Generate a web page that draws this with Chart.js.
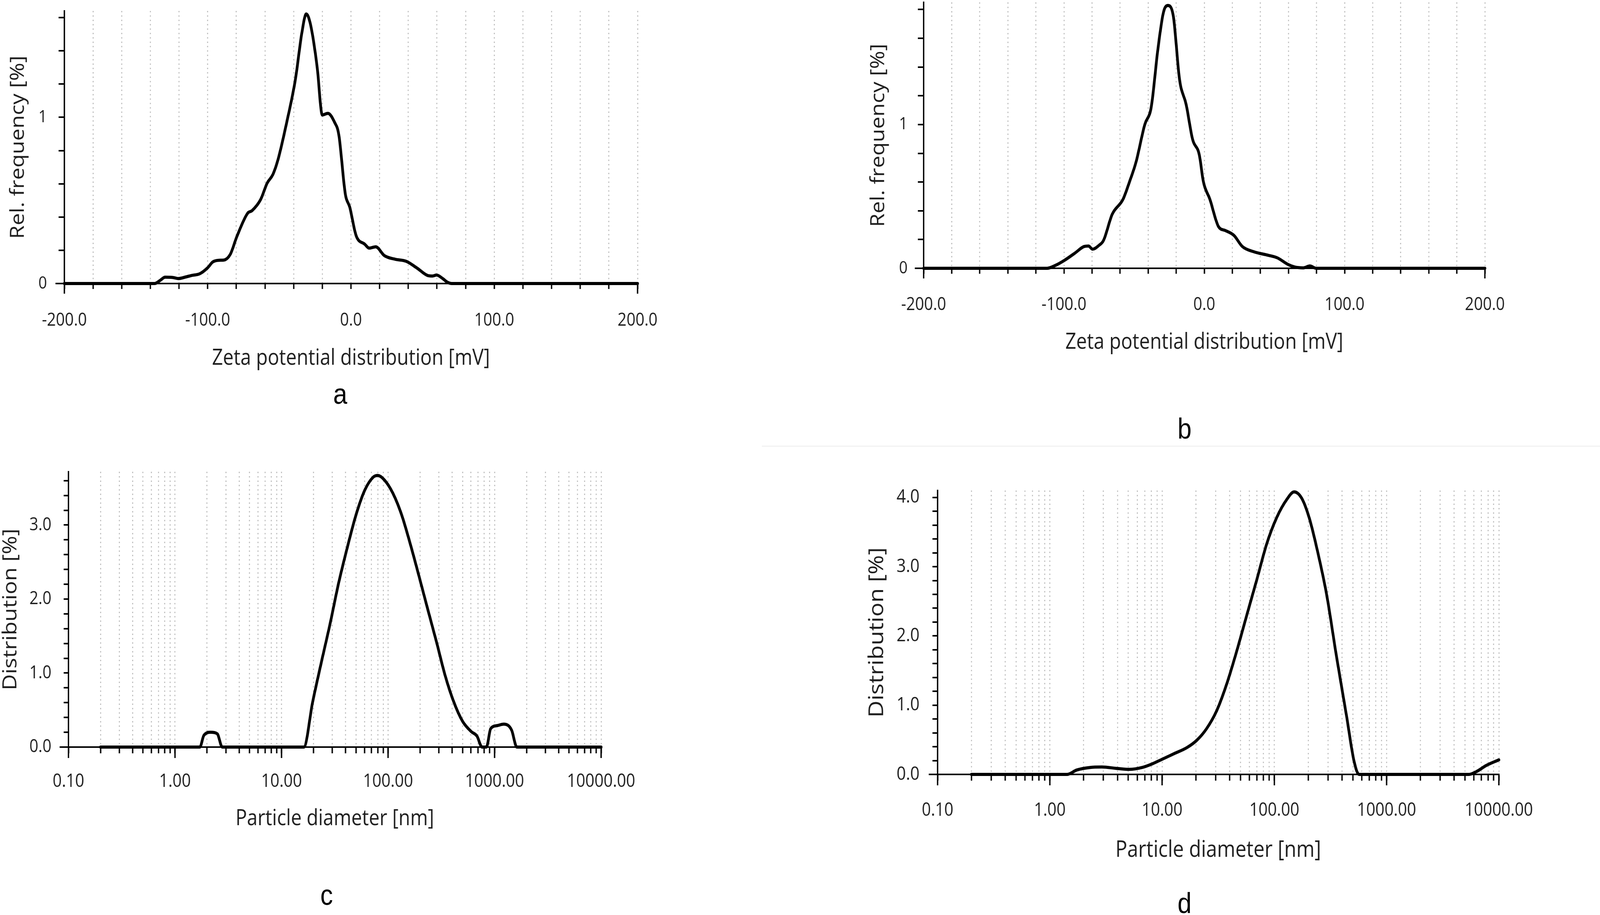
<!DOCTYPE html>
<html><head><meta charset="utf-8">
<script src="https://cdn.jsdelivr.net/npm/chart.js@4.4.1/dist/chart.umd.min.js"></script>
<style>
html,body{margin:0;padding:0;background:#fff;overflow:hidden;}
#root{position:absolute;left:0;top:0;width:4698px;height:2343px;transform-origin:0 0;background:#fff;}
canvas{position:absolute;}
.lbl{position:absolute;font-family:"Liberation Sans",Arial,sans-serif;font-size:74px;line-height:1;transform:translateX(-50%);color:#000;white-space:nowrap;}
.sep{position:absolute;left:2237px;top:1141px;width:2461px;height:3px;background:#f2f2f2;}
</style></head><body>
<div id="root">
<div class="sep"></div>
<canvas id="ca"></canvas>
<canvas id="cb"></canvas>
<canvas id="cc"></canvas>
<canvas id="cd"></canvas>
<div class="lbl" style="left:999px;top:972px">a</div>
<div class="lbl" style="left:3478px;top:1061px">b</div>
<div class="lbl" style="left:959px;top:2255px">c</div>
<div class="lbl" style="left:3478px;top:2276px">d</div>
</div>
<script>
// ---------- tick values ----------
const zetaTicks = [-200,-180,-160,-140,-120,-100,-80,-60,-40,-20,0,20,40,60,80,100,120,140,160,180,200];
const zetaLabelled = [-200,-100,0,100,200];
const logTicks = [0.1,0.2,0.3,0.4,0.5,0.6,0.7,0.8,0.9,1,2,3,4,5,6,7,8,9,10,20,30,40,50,60,70,80,90,100,200,300,400,500,600,700,800,900,1000,2000,3000,4000,5000,6000,7000,8000,9000,10000];
const logLabelled = [0.1,1,10,100,1000,10000];
const aYTicks = [0,0.2,0.4,0.6,0.8,1,1.2,1.4,1.6];
const bYTicks = [0,0.2,0.4,0.6,0.8,1,1.2,1.4,1.6,1.8];
const freqLabelled = [0,1];
const cYTicks = [0,0.2,0.4,0.6,0.8,1,1.2,1.4,1.6,1.8,2,2.2,2.4,2.6,2.8,3,3.2,3.4,3.6];
const cYLabelled = [0,1,2,3];
const dYTicks = [0,0.2,0.4,0.6,0.8,1,1.2,1.4,1.6,1.8,2,2.2,2.4,2.6,2.8,3,3.2,3.4,3.6,3.8,4];
const dYLabelled = [0,1,2,3,4];

// ---------- series (a) zeta potential ----------
const aX = [-200,-137,-133,-129.7,-124,-120.6,-115,-111.5,-105.5,-100,-96.4,-92,-88.8,-84.2,-79.7,-72.1,-69.1,-63,-58.5,-54.5,-50.9,-44.8,-38.8,-34.2,-31.2,-28.2,-23.6,-20,-16.1,-11.5,-8.5,-3.9,-0.9,3.6,9.7,12.7,17.3,23.3,30.9,38.5,46.1,53.6,57,59.7,64,67.3,70.3,200];
const aY = [0,0,0.02,0.038,0.036,0.03,0.04,0.048,0.059,0.095,0.13,0.14,0.141,0.176,0.281,0.423,0.438,0.506,0.604,0.656,0.746,0.971,1.227,1.512,1.622,1.557,1.302,1.014,1.024,0.971,0.896,0.536,0.461,0.288,0.236,0.213,0.221,0.168,0.146,0.134,0.093,0.048,0.045,0.051,0.03,0.008,0,0];
// ---------- series (b) zeta potential ----------
const bX = [-200,-112,-105.9,-99.7,-92,-85.8,-82.5,-79.6,-75,-71.8,-65.6,-57.9,-53.3,-48.6,-42.4,-37.8,-33.1,-29.1,-26,-22.2,-17.6,-12.9,-8.3,-3.6,-0.6,4,10.2,14.9,21.1,27.2,35,45.8,52,59.8,64.4,70.6,75.2,79.9,200];
const bY = [0,0,0.021,0.055,0.107,0.151,0.155,0.133,0.16,0.194,0.376,0.48,0.601,0.74,1.0,1.121,1.52,1.78,1.828,1.763,1.312,1.139,0.896,0.792,0.601,0.48,0.289,0.263,0.229,0.151,0.116,0.09,0.073,0.026,0.009,0.003,0.016,0,0];
// ---------- series (c) particle size ----------
const cX = [0.2,1.71,1.87,2.16,2.49,2.78,16.2,19.6,23.6,28.5,34.4,41.5,50.1,60.4,72.9,80.1,92.3,111,134,162,196,236,285,343,414,500,603,682,764,838,920,1060,1220,1444,1618,10000];
const cY = [0,0,0.16,0.2,0.18,0,0,0.61,1.14,1.66,2.22,2.7,3.14,3.47,3.65,3.67,3.61,3.43,3.14,2.74,2.3,1.86,1.42,0.97,0.61,0.35,0.21,0.15,0,0,0.25,0.29,0.31,0.23,0,0];
// ---------- series (d) particle size ----------
const dX = [0.2,1.42,1.74,2.25,2.91,3.96,5.11,6.6,8.1,9.9,12.8,16.6,20.4,25,30.7,37.7,46.2,56.8,69.7,85.5,105,129,150,175,204,238,292,358,440,513,568,5410,6310,7740,10000];
const dY = [0,0,0.064,0.099,0.107,0.086,0.073,0.099,0.15,0.215,0.3,0.386,0.494,0.665,0.923,1.31,1.78,2.3,2.81,3.33,3.71,3.97,4.08,3.99,3.71,3.28,2.6,1.7,0.84,0.19,0,0,0.04,0.13,0.21];

const FONT = '"Open Sans","Noto Sans",sans-serif';
const TXT = '#1e1e1e';

// fit the 4698x2343 design onto the actual viewport
const SX = (window.innerWidth || 4698) / 4698;
const SY = (window.innerHeight || 2343) / 2343;
document.getElementById('root').style.transform = 'scale(' + SX + ',' + SY + ')';
const DPR = Math.max(1, (window.devicePixelRatio || 1) * Math.max(SX, SY));

const longTicks = {
  id: 'longTicks',
  afterDraw(chart, args, o) {
    const ctx = chart.ctx, area = chart.chartArea;
    const xs = chart.scales.x, ys = chart.scales.y;
    ctx.save();
    ctx.strokeStyle = '#000';
    ctx.lineWidth = 4;
    (o.x || []).forEach(v => {
      const px = xs.getPixelForValue(v);
      ctx.beginPath(); ctx.moveTo(px, area.bottom); ctx.lineTo(px, area.bottom + o.xLen); ctx.stroke();
    });
    (o.y || []).forEach(v => {
      const py = ys.getPixelForValue(v);
      ctx.beginPath(); ctx.moveTo(area.left, py); ctx.lineTo(area.left - o.yLen, py); ctx.stroke();
    });
    ctx.restore();
  }
};

function panel(id, o) {
  const cv = document.getElementById(id);
  const lhY = o.yTitleSize * 1.2, lhX = o.xTitleSize * 1.2;
  const left = Math.round(o.yTitleX - lhY / 2);
  const top = o.area.T - 40;
  const right = o.area.R + 120;
  const bottom = Math.round(o.xTitleY + lhX / 2);
  const W = right - left, H = bottom - top;
  cv.style.left = left + 'px'; cv.style.top = top + 'px';
  cv.width = W; cv.height = H; cv.style.width = W + 'px'; cv.style.height = H + 'px';
  const yW = o.area.L - left, xH = bottom - o.area.B;
  new Chart(cv, {
    type: 'line',
    data: { datasets: [{
      data: o.xs.map((x, i) => ({ x: x, y: o.ys[i] })),
      borderColor: '#000', borderWidth: 8, pointRadius: 0, fill: false,
      cubicInterpolationMode: 'monotone', clip: 10, borderJoinStyle: 'round', borderCapStyle: 'round'
    }]},
    options: {
      responsive: false, maintainAspectRatio: false, animation: false, devicePixelRatio: DPR,
      layout: { padding: { top: o.area.T - top, right: right - o.area.R, left: 0, bottom: 0 } },
      plugins: { legend: { display: false }, tooltip: { enabled: false },
        longTicks: { x: o.longX, xLen: o.longXLen, y: o.longY, yLen: o.longYLen } },
      scales: {
        x: {
          type: o.xType, min: o.xMin, max: o.xMax, position: 'bottom',
          afterBuildTicks: s => { s.ticks = o.xTicks.map(v => ({ value: v })); },
          afterFit: s => { s.height = xH; s.paddingLeft = 0; s.paddingRight = 0; s.paddingTop = 0; s.paddingBottom = 0; },
          grid: { display: true, drawOnChartArea: true, drawTicks: true, color: '#bdbdbd', lineWidth: 3,
                  tickLength: o.xTickLen, tickColor: '#000', tickWidth: 4, tickBorderDash: [] },
          border: { display: true, color: '#000', width: 4, dash: [3.5, 7.7] },
          ticks: { autoSkip: false, maxRotation: 0, minRotation: 0, padding: o.xTickPad, color: TXT,
                   font: { family: FONT, size: o.xTickSize },
                   callback: v => o.xLabelled.includes(v) ? o.xFmt(v) : '' },
          title: { display: true, text: o.xTitle, color: TXT, padding: 0, font: { family: FONT, size: o.xTitleSize } }
        },
        y: {
          type: 'linear', min: 0, max: o.yMax, position: 'left',
          afterBuildTicks: s => { s.ticks = o.yTicks.map(v => ({ value: v })); },
          afterFit: s => { s.width = yW; s.paddingLeft = 0; s.paddingRight = 0; s.paddingTop = 0; s.paddingBottom = 0; },
          grid: { display: true, drawOnChartArea: false, drawTicks: true, tickLength: o.yTickLen,
                  tickColor: '#000', tickWidth: 4, color: '#000', lineWidth: 4 },
          border: { display: true, color: '#000', width: 4 },
          ticks: { autoSkip: false, padding: o.yTickPad, color: TXT, font: { family: FONT, size: o.yTickSize },
                   callback: v => o.yLabelled.includes(v) ? o.yFmt(v) : '' },
          title: { display: true, text: o.yTitle, color: TXT, padding: 0, font: { family: FONT, size: o.yTitleSize } }
        }
      }
    },
    plugins: [longTicks]
  });
}

const zetaFmt = v => v.toFixed(1);
const logFmt = v => v.toFixed(2);
const intFmt = v => String(v);
const oneFmt = v => v.toFixed(1);

panel('ca', {
  area: { L: 189, R: 1872, T: 28, B: 726 },
  xs: aX, ys: aY, xType: 'linear', xMin: -200, xMax: 200,
  xTicks: zetaTicks, xLabelled: zetaLabelled, xFmt: zetaFmt,
  yMax: 1.64, yTicks: aYTicks, yLabelled: freqLabelled, yFmt: intFmt,
  xTitle: 'Zeta potential distribution [mV]', yTitle: 'Rel. frequency [%]',
  xTitleSize: 56, yTitleSize: 56, xTickSize: 46, yTickSize: 44,
  yTitleX: 54, xTitleY: 918,
  xTickLen: 14, xTickPad: 53, yTickLen: 17, yTickPad: 34,
  longX: [-200, 200], longXLen: 26, longY: [0], longYLen: 26
});
panel('cb', {
  area: { L: 2712, R: 4360, T: 6, B: 687 },
  xs: bX, ys: bY, xType: 'linear', xMin: -200, xMax: 200,
  xTicks: zetaTicks, xLabelled: zetaLabelled, xFmt: zetaFmt,
  yMax: 1.85, yTicks: bYTicks, yLabelled: freqLabelled, yFmt: intFmt,
  xTitle: 'Zeta potential distribution [mV]', yTitle: 'Rel. frequency [%]',
  xTitleSize: 56, yTitleSize: 56, xTickSize: 46, yTickSize: 44,
  yTitleX: 2580, xTitleY: 877,
  xTickLen: 14, xTickPad: 52, yTickLen: 17, yTickPad: 30,
  longX: [-200, 200], longXLen: 26, longY: [0], longYLen: 26
});
panel('cc', {
  area: { L: 201, R: 1765, T: 1208, B: 1913 },
  xs: cX, ys: cY, xType: 'logarithmic', xMin: 0.1, xMax: 10000,
  xTicks: logTicks, xLabelled: logLabelled, xFmt: logFmt,
  yMax: 3.72, yTicks: cYTicks, yLabelled: cYLabelled, yFmt: oneFmt,
  xTitle: 'Particle diameter [nm]', yTitle: 'Distribution [%]',
  xTitleSize: 56, yTitleSize: 57, xTickSize: 47, yTickSize: 46,
  yTitleX: 32, xTitleY: 2097,
  xTickLen: 16, xTickPad: 44, yTickLen: 14, yTickPad: 36,
  longX: logLabelled, longXLen: 28, longY: [0], longYLen: 26
});
panel('cd', {
  area: { L: 2753, R: 4401, T: 1256, B: 1983 },
  xs: dX, ys: dY, xType: 'logarithmic', xMin: 0.1, xMax: 10000,
  xTicks: logTicks, xLabelled: logLabelled, xFmt: logFmt,
  yMax: 4.1, yTicks: dYTicks, yLabelled: dYLabelled, yFmt: oneFmt,
  xTitle: 'Particle diameter [nm]', yTitle: 'Distribution [%]',
  xTitleSize: 58, yTitleSize: 60, xTickSize: 47, yTickSize: 48,
  yTitleX: 2576, xTitleY: 2177,
  xTickLen: 16, xTickPad: 48, yTickLen: 15, yTickPad: 38,
  longX: logLabelled, longXLen: 28, longY: [0], longYLen: 26
});
</script>
</body></html>
